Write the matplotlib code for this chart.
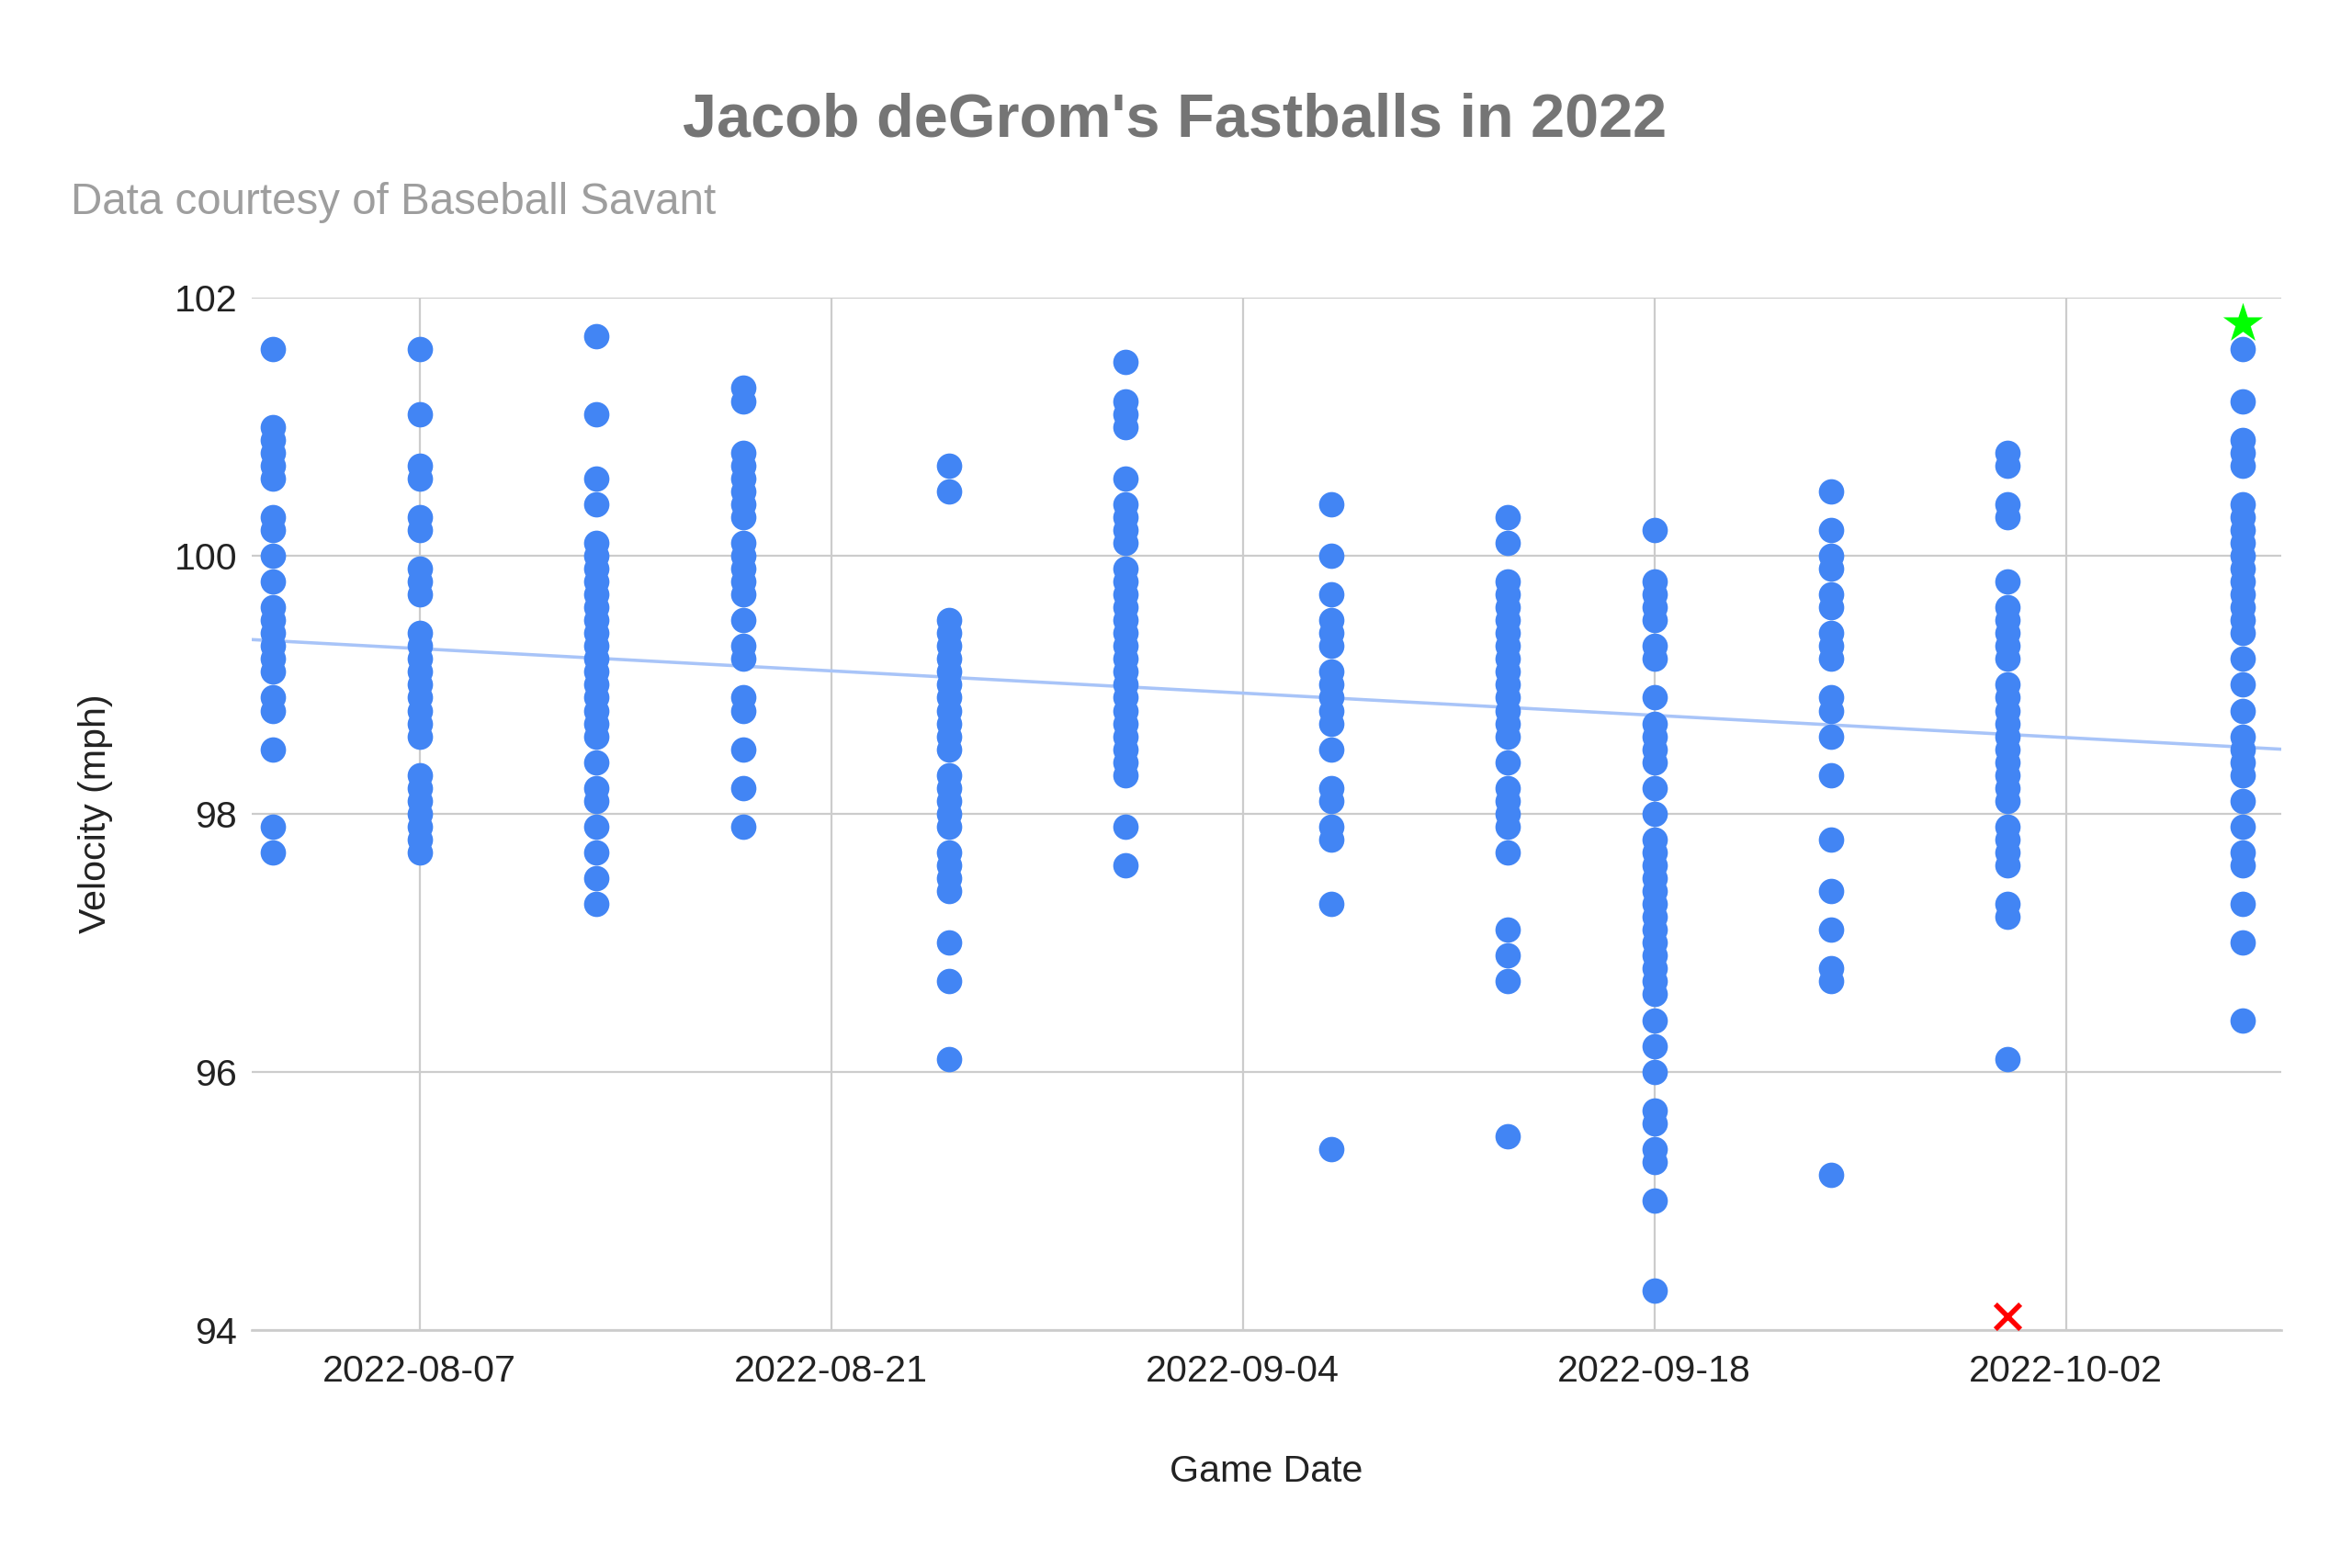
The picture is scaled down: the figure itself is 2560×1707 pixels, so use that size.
import datetime

import matplotlib
matplotlib.use("Agg")
import matplotlib.pyplot as plt
import matplotlib.dates as mdates
import numpy as np


# Fastball velocities (mph) per start
game_dates = [
    "2022-08-02", "2022-08-07", "2022-08-13", "2022-08-18",
    "2022-08-25", "2022-08-31", "2022-09-07", "2022-09-13",
    "2022-09-18", "2022-09-24", "2022-09-30", "2022-10-08",
]

velo_0802 = [101.6, 101.0, 100.9, 100.8, 100.7, 100.6, 100.3, 100.2, 100.0, 99.8,
             99.6, 99.5, 99.4, 99.3, 99.2, 99.1, 98.9, 98.8, 98.5, 97.9, 97.7]
velo_0807 = [101.6, 101.1, 100.7, 100.6, 100.3, 100.2, 99.9, 99.8, 99.7, 99.4,
             99.3, 99.2, 99.1, 99.0, 98.9, 98.8, 98.7, 98.6, 98.3, 98.2,
             98.1, 98.0, 97.9, 97.8, 97.7]
velo_0813 = [101.7, 101.1, 100.6, 100.4, 100.1, 100.0, 99.9, 99.8, 99.7, 99.6,
             99.5, 99.4, 99.3, 99.2, 99.1, 99.0, 98.9, 98.8, 98.7, 98.6,
             98.4, 98.2, 98.1, 97.9, 97.7, 97.5, 97.3]
velo_0818 = [101.3, 101.2, 100.8, 100.7, 100.6, 100.5, 100.4, 100.3, 100.1, 100.0,
             99.9, 99.8, 99.7, 99.5, 99.3, 99.2, 98.9, 98.8, 98.5, 98.2, 97.9]
velo_0825 = [100.7, 100.5, 99.5, 99.4, 99.3, 99.2, 99.1, 99.0, 98.9, 98.8,
             98.7, 98.6, 98.5, 98.3, 98.2, 98.1, 98.0, 97.9, 97.7, 97.6,
             97.5, 97.4, 97.0, 96.7, 96.1]
velo_0831 = [101.5, 101.2, 101.1, 101.0, 100.6, 100.4, 100.3, 100.2, 100.1, 99.9,
             99.8, 99.7, 99.6, 99.5, 99.4, 99.3, 99.2, 99.1, 99.0, 98.9,
             98.8, 98.7, 98.6, 98.5, 98.4, 98.3, 97.9, 97.6]
velo_0907 = [100.4, 100.0, 99.7, 99.5, 99.4, 99.3, 99.1, 99.0, 98.9, 98.8,
             98.7, 98.5, 98.2, 98.1, 97.9, 97.8, 97.3, 95.4]
velo_0913 = [100.3, 100.1, 99.8, 99.7, 99.6, 99.5, 99.4, 99.3, 99.2, 99.1,
             99.0, 98.9, 98.8, 98.7, 98.6, 98.4, 98.2, 98.1, 98.0, 97.9,
             97.7, 97.1, 96.9, 96.7, 95.5]
velo_0918 = [100.2, 99.8, 99.7, 99.6, 99.5, 99.3, 99.2, 98.9, 98.7, 98.6,
             98.5, 98.4, 98.2, 98.0, 97.8, 97.7, 97.6, 97.5, 97.4, 97.3,
             97.2, 97.1, 97.0, 96.9, 96.8, 96.7, 96.6, 96.4, 96.2, 96.0,
             95.7, 95.6, 95.4, 95.3, 95.0, 94.3]
velo_0924 = [100.5, 100.2, 100.0, 99.9, 99.7, 99.6, 99.4, 99.3, 99.2, 98.9,
             98.8, 98.6, 98.3, 97.8, 97.4, 97.1, 96.8, 96.7, 95.2]
velo_0930 = [100.8, 100.7, 100.4, 100.3, 99.8, 99.6, 99.5, 99.4, 99.3, 99.2,
             99.0, 98.9, 98.8, 98.7, 98.6, 98.5, 98.4, 98.3, 98.2, 98.1,
             97.9, 97.8, 97.7, 97.6, 97.3, 97.2, 96.1]
velo_1008 = [101.6, 101.2, 100.9, 100.8, 100.7, 100.4, 100.3, 100.2, 100.1, 100.0,
             99.9, 99.8, 99.7, 99.6, 99.5, 99.4, 99.2, 99.0, 98.8, 98.6,
             98.5, 98.4, 98.3, 98.1, 97.9, 97.7, 97.6, 97.3, 97.0, 96.4]

velocities = [
    velo_0802, velo_0807, velo_0813, velo_0818, velo_0825, velo_0831,
    velo_0907, velo_0913, velo_0918, velo_0924, velo_0930, velo_1008,
]

# Highlighted points
max_date = "2022-10-08"
max_velo = 101.8
min_date = "2022-09-30"
min_velo = 94.1

# Linear trendline as drawn (velocity at the left and right ends of the range)
trend_velo = [99.35, 98.5]

x_ticks = ["2022-08-07", "2022-08-21", "2022-09-04", "2022-09-18", "2022-10-02"]
y_ticks = [94, 96, 98, 100, 102]


def to_num(s: str) -> float:
    return mdates.date2num(datetime.datetime.strptime(s, "%Y-%m-%d"))


def main() -> None:
    plt.rcParams["font.family"] = ["Liberation Sans", "DejaVu Sans"]

    # Flatten
    xs = []
    ys = []
    for date, velos in zip(game_dates, velocities):
        xs.extend([to_num(date)] * len(velos))
        ys.extend(velos)
    xs = np.array(xs)
    ys = np.array(ys)

    fig = plt.figure(figsize=(16, 10.67), dpi=160)
    ax = fig.add_axes([0.107, 0.152, 0.863, 0.658])

    x_lo = mdates.date2num(datetime.datetime(2022, 8, 1, 7))
    x_hi = mdates.date2num(datetime.datetime(2022, 10, 9, 8))

    # Trendline
    ax.plot([x_lo, x_hi], trend_velo, color="#a8c4f8", linewidth=1.6, zorder=2)

    ax.scatter(xs, ys, s=155, color="#4285f4", linewidths=0, zorder=3)
    ax.scatter([to_num(max_date)], [max_velo], marker="*", s=420,
               color="#00ff00", linewidths=0, zorder=4)
    ax.scatter([to_num(min_date)], [min_velo], marker="x", s=150,
               color="#ff0000", linewidths=2.5, zorder=4)

    ax.set_xlim(x_lo, x_hi)
    ax.set_ylim(94, 102)
    ax.set_xticks([to_num(t) for t in x_ticks])
    ax.set_xticklabels(x_ticks)
    ax.set_yticks(y_ticks)
    ax.set_yticklabels([str(t) for t in y_ticks])
    ax.tick_params(axis="both", length=0, labelsize=18.5, colors="#222222")
    ax.tick_params(axis="x", pad=12)
    ax.tick_params(axis="y", pad=7)
    ax.grid(True, color="#cccccc", linewidth=1.0, zorder=0)
    ax.set_axisbelow(True)
    for side in ["top", "right", "left"]:
        ax.spines[side].set_visible(False)
    ax.spines["bottom"].set_color("#cccccc")
    ax.spines["bottom"].set_linewidth(1.2)

    ax.set_xlabel("Game Date", fontsize=18.5, color="#222222", labelpad=32)
    ax.set_ylabel("Velocity (mph)", fontsize=18.5, color="#222222", labelpad=30)

    fig.text(0.4995, 0.923, "Jacob deGrom's Fastballs in 2022", ha="center", va="center",
             fontsize=30, fontweight="bold", color="#757575")
    fig.text(0.030, 0.871, "Data courtesy of Baseball Savant", ha="left", va="center",
             fontsize=21.4, color="#9e9e9e")

    fig.savefig("out.png", dpi=160, facecolor="white")


if __name__ == "__main__":
    main()
